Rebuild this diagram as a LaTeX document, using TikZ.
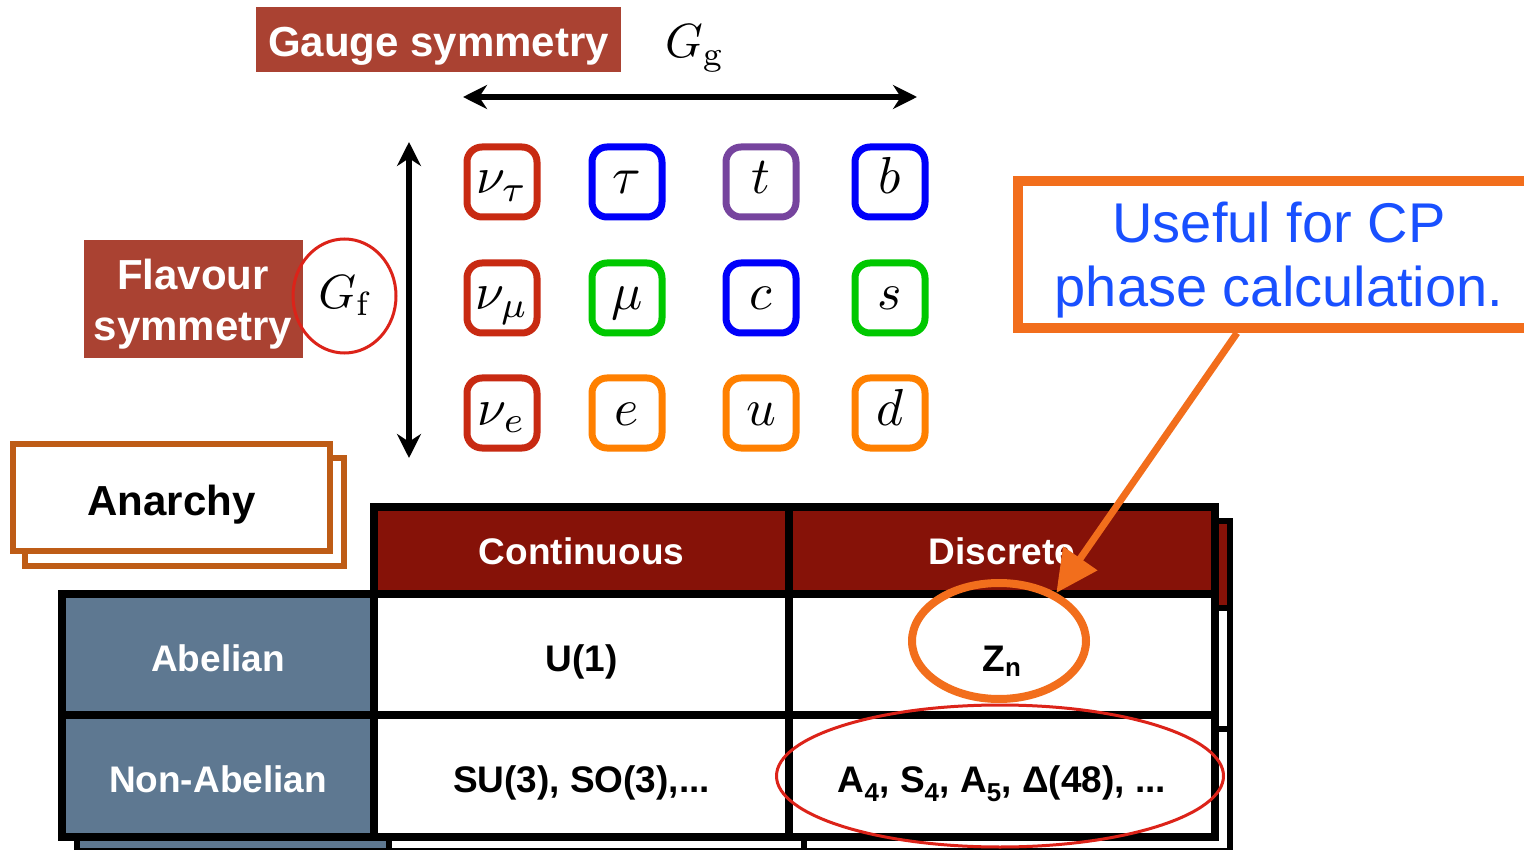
\documentclass[tikz,border=0pt]{standalone}
\usepackage{fontspec}
\setsansfont{Liberation Sans}
\usepackage{graphicx}
\usetikzlibrary{calc}
\usetikzlibrary{arrows.meta}
\usetikzlibrary{shapes.geometric}
\usetikzlibrary{shadows}

\definecolor{gaugered}{RGB}{170,66,50}
\definecolor{headred}{RGB}{134,18,8}
\definecolor{slateblue}{RGB}{94,120,145}
\definecolor{anarchyorange}{RGB}{190,92,22}
\definecolor{calloutorange}{RGB}{242,110,28}
\definecolor{ringred}{RGB}{220,35,25}
\definecolor{pred}{RGB}{200,42,18}
\definecolor{pblue}{RGB}{0,0,250}
\definecolor{ppurple}{RGB}{118,68,158}
\definecolor{pgreen}{RGB}{0,200,0}
\definecolor{porange}{RGB}{255,128,0}
\definecolor{textblue}{RGB}{25,80,255}

\begin{document}
\begin{tikzpicture}[x=1pt, y=-1pt,
    particle/.style={draw=#1, line width=7pt, rounded corners=15pt, fill=white, minimum width=70pt, minimum height=70pt, inner sep=0pt, text height=36pt, text depth=12pt, drop shadow={shadow xshift=1.5pt, shadow yshift=-3pt, opacity=0.35}},
    symlabel/.style={fill=gaugered, text=white, font=\fontsize{42}{51}\selectfont\sffamily\bfseries, align=center},
    cell/.style={draw=black, line width=8pt, font=\fontsize{37}{44}\selectfont\sffamily\bfseries, inner sep=0pt, text height=33pt, text depth=0pt},
    ring/.style={ellipse, draw=#1, inner sep=0pt},
    dblarrow/.style={{Stealth[length=24pt,width=24pt]}-{Stealth[length=24pt,width=24pt]}, line width=6pt}]
    \useasboundingbox (0,0) rectangle (1524,850);
    %gauge symmetry
    \node[symlabel, minimum width=365pt, minimum height=65pt, text height=35pt, text depth=0pt] at (438.5,39.5) (gauge) {Gauge symmetry};
    \node[anchor=base west, inner sep=0pt] at (665,58) (gg) {\scalebox{4.8}{$G_{\mathrm{g}}$}};
    %arrows
    \coordinate (gleft) at (463,97);
    \coordinate (gright) at (917,97);
    \draw[dblarrow] (gleft) -- (gright);
    \coordinate (ftop) at (409,142);
    \coordinate (fbottom) at (409,458);
    \draw[dblarrow] (ftop) -- (fbottom);
    %flavour symmetry
    \node[symlabel, minimum width=219pt, minimum height=118pt, text depth=0pt] at (193,299.5) (flavour) {Flavour\\symmetry};
    \node[ring=ringred, line width=3pt, minimum width=103pt, minimum height=114pt] at (344.5,296) (gf) {\scalebox{4.8}{$G_{\mathrm{f}}$}};
    %third generation
    \node[particle=pred] at (502,182) (nutau) {\scalebox{5.2}{$\nu_\tau$}};
    \node[particle=pblue] at (627,182) (tau) {\scalebox{5.2}{$\tau$}};
    \node[particle=ppurple] at (761,182) (top) {\scalebox{5.2}{$t$}};
    \node[particle=pblue] at (890,182) (bottom) {\scalebox{5.2}{$b$}};
    %second generation
    \node[particle=pred] at (502,298) (numu) {\scalebox{5.2}{$\nu_\mu$}};
    \node[particle=pgreen] at (627,298) (muon) {\scalebox{5.2}{$\mu$}};
    \node[particle=pblue] at (761,298) (charm) {\scalebox{5.2}{$c$}};
    \node[particle=pgreen] at (890,298) (strange) {\scalebox{5.2}{$s$}};
    %first generation
    \node[particle=pred] at (502,413) (nue) {\scalebox{5.2}{$\nu_e$}};
    \node[particle=porange] at (627,413) (electron) {\scalebox{5.2}{$e$}};
    \node[particle=porange] at (761,413) (up) {\scalebox{5.2}{$u$}};
    \node[particle=porange] at (890,413) (down) {\scalebox{5.2}{$d$}};
    %anarchy
    \draw[anarchyorange, line width=6pt, fill=white] (25,458) rectangle (344,566);
    \node[draw=anarchyorange, line width=6pt, fill=white, minimum width=317pt, minimum height=107pt, text height=35pt, text depth=0pt, font=\fontsize{42}{51}\selectfont\sffamily\bfseries] at (171.5,497.5) (anarchy) {Anarchy};
    %table behind
    \begin{scope}[shift={(15,14)}, line width=6pt]
        \draw[fill=headred] (374,507) rectangle (1215,594);
        \draw[fill=slateblue] (62,594) rectangle (374,837);
        \draw[fill=white] (374,594) rectangle (1215,837);
        \draw (789,507) -- (789,837);
        \draw (62,715) -- (1215,715);
    \end{scope}
    %table header
    \node[cell, fill=headred, text=white, minimum width=415pt, minimum height=87pt, text height=27pt] at (581.5,550.5) (cont) {Continuous};
    \node[cell, fill=headred, text=white, minimum width=426pt, minimum height=87pt, text height=27pt] at (1002,550.5) (disc) {Discrete};
    %row headers
    \node[cell, fill=slateblue, text=white, minimum width=312pt, minimum height=121pt] at (218,654.5) (abel) {Abelian};
    \node[cell, fill=slateblue, text=white, minimum width=312pt, minimum height=122pt] at (218,776) (nonabel) {Non-Abelian};
    %groups
    \node[cell, fill=white, minimum width=415pt, minimum height=121pt] at (581.5,654.5) (uone) {U(1)};
    \node[cell, fill=white, minimum width=426pt, minimum height=121pt] at (1002,654.5) (zn) {Z\textsubscript{n}};
    \node[cell, fill=white, minimum width=415pt, minimum height=122pt] at (581.5,776) (suso) {SU(3), SO(3),...};
    \node[cell, fill=white, minimum width=426pt, minimum height=122pt] at (1002,776) (afour) {A\textsubscript{4}, S\textsubscript{4}, A\textsubscript{5}, Δ(48), ...};
    %highlights
    \node[ring=calloutorange, line width=8pt, minimum width=174pt, minimum height=116pt] at (999,641) (znring) {};
    \node[ring=ringred, line width=3pt, minimum width=447pt, minimum height=142pt] at (1000,776) (afourring) {};
    %callout
    \node[draw=calloutorange, line width=10pt, fill=white, minimum width=522pt, minimum height=147pt, text depth=0pt, text=textblue, align=center, font=\fontsize{56}{64}\selectfont\sffamily] at (1279,254.5) (useful) {Useful for CP\\phase calculation.};
    \draw[calloutorange, line width=7pt, -{Triangle[length=42pt,width=40pt]}] ($(useful.south west)!0.421!(useful.south east)$) -- (znring.40);
\end{tikzpicture}
\end{document}
